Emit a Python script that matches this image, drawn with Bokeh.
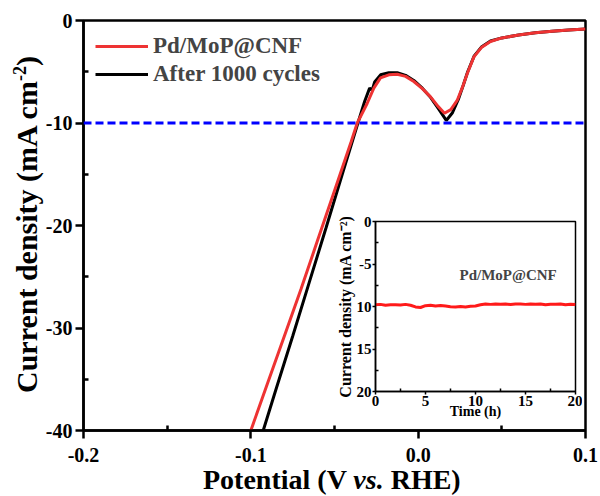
from bokeh.plotting import figure
from bokeh.models import Range1d, FixedTicker, Span, Label, Legend, LegendItem, GridBox, Div
from bokeh.embed import file_html
from bokeh.resources import INLINE

# ---------------- data ----------------
red_v = [-0.100, -0.090, -0.080, -0.070, -0.060, -0.050, -0.040, -0.0364, -0.0305, -0.0265,
         -0.0225, -0.0175, -0.0125, -0.0075, -0.0026, 0.0025, 0.0074, 0.0120, 0.0157, 0.0195,
         0.0233, 0.0265, 0.0293, 0.0333, 0.0380, 0.0432, 0.050, 0.060, 0.070, 0.080, 0.090, 0.100]
red_j = [-40.0, -35.4, -30.8, -26.2, -21.4, -16.6, -11.8, -10.0, -8.1, -6.6,
         -5.6, -5.3, -5.25, -5.45, -5.95, -6.65, -7.45, -8.4, -9.05, -8.7,
         -7.8, -6.5, -5.2, -3.55, -2.6, -2.05, -1.7, -1.42, -1.2, -1.04, -0.92, -0.83]

black_v = [-0.0926, -0.085, -0.075, -0.065, -0.055, -0.045, -0.036, -0.032, -0.029, -0.0275,
           -0.026, -0.0225, -0.0175, -0.0125, -0.0075, -0.0026, 0.0025, 0.0074, 0.0125, 0.0168,
           0.0205, 0.0240, 0.0270, 0.0296, 0.0335, 0.0380, 0.0432, 0.050, 0.060, 0.070, 0.080,
           0.090, 0.100]
black_j = [-40.0, -36.0, -30.8, -25.5, -20.2, -14.8, -10.0, -7.9, -6.6, -6.8,
           -6.0, -5.3, -5.1, -5.1, -5.35, -5.85, -6.6, -7.5, -8.7, -9.75,
           -9.0, -7.7, -6.3, -5.0, -3.45, -2.55, -2.0, -1.7, -1.42, -1.2, -1.04,
           -0.92, -0.83]

target_j = -10

x_ticks = [-0.2, -0.1, 0.0, 0.1]
x_tick_labels = ["-0.2", "-0.1", "0.0", "0.1"]
x_minor = [-0.15, -0.05, 0.05]
y_ticks = [0, -10, -20, -30, -40]
y_tick_labels = ["0", "-10", "-20", "-30", "-40"]
y_minor = [-5, -15, -25, -35]

inset_t = [0, 0.5, 1, 1.5, 2, 2.5, 3, 3.5, 4, 4.5, 5, 5.5, 6, 6.5, 7, 7.5, 8, 8.5, 9, 9.5,
           10, 10.5, 11, 11.5, 12, 12.5, 13, 13.5, 14, 14.5, 15, 15.5, 16, 16.5, 17, 17.5,
           18, 18.5, 19, 19.5, 20]
inset_j = [-9.80, -9.75, -9.85, -9.80, -9.78, -9.82, -9.75, -9.85, -10.05, -10.12,
           -9.90, -9.85, -9.95, -9.88, -9.95, -10.02, -10.05, -10.00, -10.05, -9.98,
           -9.95, -9.80, -9.70, -9.75, -9.70, -9.74, -9.70, -9.76, -9.70, -9.72,
           -9.75, -9.70, -9.74, -9.70, -9.80, -9.74, -9.74, -9.70, -9.80, -9.74, -9.76]
inset_x_ticks = [0, 5, 10, 15, 20]
inset_x_labels = ["0", "5", "10", "15", "20"]
inset_x_minor = [2.5, 7.5, 12.5, 17.5]
inset_y_ticks = [0, -5, -10, -15, -20]
inset_y_labels = ["0", "-5", "10", "15", "20"]
inset_y_minor = [-2.5, -7.5, -12.5, -17.5]

FONT = "Liberation Serif"
RED = "#EE3333"

# ---------------- main figure ----------------
W, H = 600, 496
p = figure(width=W, height=H, x_range=Range1d(-0.2, 0.1), y_range=Range1d(-40, 0),
           output_backend="svg", toolbar_location=None,
           min_border_left=83, min_border_right=15, min_border_top=20, min_border_bottom=66)
p.grid.visible = False
p.outline_line_color = "black"
p.outline_line_width = 2.5
p.background_fill_color = "white"
p.border_fill_color = "white"

for ax in (p.xaxis[0], p.yaxis[0]):
    ax.axis_line_width = 2.5
    ax.major_tick_line_width = 2.5
    ax.minor_tick_line_width = 2.5
    ax.major_tick_out = 8
    ax.major_tick_in = 0
    ax.minor_tick_out = 0
    ax.minor_tick_in = 5
    ax.major_label_text_font = FONT
    ax.major_label_text_font_style = "bold"
    ax.major_label_text_font_size = "20px"
    ax.major_label_text_color = "black"

p.xaxis.ticker = FixedTicker(ticks=x_ticks, minor_ticks=x_minor)
p.xaxis.major_label_overrides = {t: s for t, s in zip(x_ticks, x_tick_labels)}
p.xaxis.major_label_standoff = 9
p.yaxis.ticker = FixedTicker(ticks=y_ticks, minor_ticks=y_minor)
p.yaxis.major_label_overrides = {t: s for t, s in zip(y_ticks, y_tick_labels)}
p.yaxis.major_label_standoff = 3

r_black = p.line(black_v, black_j, line_color="black", line_width=3)
r_red = p.line(red_v, red_j, line_color=RED, line_width=3)

p.add_layout(Span(location=target_j, dimension="width", line_color="#0000FF",
                  line_width=3, line_dash="8 4"))

legend = Legend(items=[LegendItem(label="Pd/MoP@CNF", renderers=[r_red]),
                       LegendItem(label="After 1000 cycles", renderers=[r_black])],
                location="top_left", border_line_color=None, background_fill_alpha=0,
                label_text_font=FONT, label_text_font_style="bold",
                label_text_font_size="23px", glyph_width=53, glyph_height=28,
                label_height=28, spacing=0, padding=0, margin=12, label_standoff=5)
p.add_layout(legend)

# ---------------- inset figure ----------------
IW, IH = 249, 208
inset = figure(width=IW, height=IH, x_range=Range1d(0, 20), y_range=Range1d(-20, 0),
               output_backend="svg", toolbar_location=None,
               min_border_left=40, min_border_right=7, min_border_top=8,
               min_border_bottom=30)
inset.grid.visible = False
inset.outline_line_color = "black"
inset.outline_line_width = 1.5
inset.background_fill_color = "white"
inset.border_fill_alpha = 0

for ax in (inset.xaxis[0], inset.yaxis[0]):
    ax.axis_line_width = 1.5
    ax.major_tick_line_width = 1.5
    ax.minor_tick_line_width = 1.5
    ax.major_tick_out = 3
    ax.major_tick_in = 0
    ax.minor_tick_out = 0
    ax.minor_tick_in = 3
    ax.major_label_text_font = FONT
    ax.major_label_text_font_style = "bold"
    ax.major_label_text_font_size = "15px"
    ax.major_label_text_color = "black"
    ax.major_label_standoff = 1
    ax.axis_label_text_font = FONT
    ax.axis_label_text_font_style = "bold"
    ax.axis_label_text_color = "black"

inset.xaxis.ticker = FixedTicker(ticks=inset_x_ticks, minor_ticks=inset_x_minor)
inset.xaxis.major_label_overrides = {t: s for t, s in zip(inset_x_ticks, inset_x_labels)}
inset.xaxis.axis_label = "Time (h)"
inset.xaxis.axis_label_text_font_size = "14px"
inset.xaxis.axis_label_standoff = -5
inset.yaxis.ticker = FixedTicker(ticks=inset_y_ticks, minor_ticks=inset_y_minor)
inset.yaxis.major_label_overrides = {t: s for t, s in zip(inset_y_ticks, inset_y_labels)}
inset.yaxis.axis_label = "Current density (mA cm\u207b\u00b2)"
inset.yaxis.axis_label_text_font_size = "16px"
inset.yaxis.axis_label_standoff = 0

inset.line(inset_t, inset_j, line_color="#FF1A1A", line_width=3)
inset.add_layout(Label(x=8.4, y=-6.35, text="Pd/MoP@CNF", text_font=FONT,
                       text_font_style="bold", text_font_size="15px",
                       text_align="left", text_baseline="middle"))

# ---------------- main axis titles as HTML (italic "vs." and superscript) ----------------
xtitle = Div(width=330, height=30, margin=0,
             text=('<div style="font-family:\'Liberation Serif\';font-weight:bold;'
                   'font-size:28px;line-height:28px;white-space:nowrap;color:black;">'
                   'Potential (V <i>vs.</i> RHE)</div>'))
ytitle = Div(width=40, height=360, margin=0,
             text=('<div style="font-family:\'Liberation Serif\';font-weight:bold;'
                   'font-size:30px;line-height:30px;white-space:nowrap;color:black;'
                   'width:353px;transform-origin:0 0;'
                   'transform:translate(0px,353px) rotate(-90deg);">'
                   'Current density (mA cm<sup style="font-size:18px;line-height:0;">-2</sup>)'
                   '</div>'))

# ---------------- overlay layout ----------------
grid = GridBox(children=[(p, 0, 0, 5, 5), (inset, 2, 3, 1, 1),
                         (xtitle, 4, 2, 1, 1), (ytitle, 1, 1, 1, 1)],
               rows=["40px", "173px", "208px", "45px", "30px"],
               cols=["12px", "191px", "130px", "249px", "18px"])

open("out.html", "w").write(file_html(grid, INLINE))
